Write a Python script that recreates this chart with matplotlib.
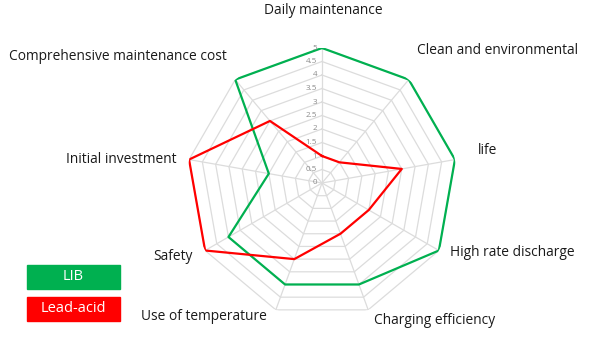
import numpy as np
import matplotlib
matplotlib.use("Agg")
import matplotlib.pyplot as plt
from matplotlib.transforms import offset_copy

categories = ["Daily maintenance", "Clean and environmental", "life",
              "High rate discharge", "Charging efficiency", "Use of temperature",
              "Safety", "Initial investment", "Comprehensive maintenance cost"]
lib_values = [5, 5, 5, 5, 4, 4, 4, 2, 5]
lead_values = [1, 1, 3, 2, 2, 3, 5, 5, 3]
ring_levels = [0.5, 1, 1.5, 2, 2.5, 3, 3.5, 4, 4.5, 5]
ring_labels = ["0", "0.5", "1", "1.5", "2", "2.5", "3", "3.5", "4", "4.5", "5"]

plt.rcParams['font.family'] = ['Open Sans', 'DejaVu Sans']

W, H = 600, 344
fig = plt.figure(figsize=(W / 100, H / 100), dpi=100)
cx, cy, R = 322, 183, 135
ax = fig.add_axes([(cx - R) / W, (H - cy - R) / H, 2 * R / W, 2 * R / H], projection='polar')
ax.set_theta_zero_location('N')
ax.set_theta_direction(-1)
ax.set_ylim(0, 5)
ax.grid(False)
ax.spines['polar'].set_visible(False)
ax.set_xticks([])
ax.set_yticks([])
ax.patch.set_alpha(0)

n = len(categories)
angles = np.linspace(0, 2 * np.pi, n, endpoint=False)
closed = np.concatenate([angles, angles[:1]])

grid_color = '#dcdcdc'
for lv in ring_levels:
    ax.plot(closed, [lv] * (n + 1), color=grid_color, lw=0.9, zorder=1)
for a in angles:
    ax.plot([a, a], [0, 5], color=grid_color, lw=0.9, zorder=1)

ax.plot(closed, lib_values + lib_values[:1], color='#00B050', lw=1.6, zorder=3)
ax.plot(closed, lead_values + lead_values[:1], color='#FF0000', lw=1.6, zorder=3)

tr = offset_copy(ax.transData, fig=fig, x=-5, y=0, units='dots')
for i, lab in enumerate(ring_labels):
    ax.text(0, i * 0.5, lab, transform=tr, ha='right', va='center',
            fontsize=5.8, color='#8a8a8a', zorder=4)

# category labels (pixel anchors)
label_pos = [
    (323, 11, 'center'),
    (417, 50, 'left'),
    (478, 151, 'left'),
    (450, 253, 'left'),
    (374, 320, 'left'),
    (267, 317, 'right'),
    (193, 256, 'right'),
    (176, 160, 'right'),
    (227, 56, 'right'),
]
for name, (x, y, ha) in zip(categories, label_pos):
    fig.text(x / W, 1 - y / H, name, ha=ha, va='center', fontsize=9.9, color='#1a1a1a')

# legend boxes
for (label, color, y0, y1) in [("LIB", '#00B050', 265, 289), ("Lead-acid", '#FF0000', 297, 321)]:
    fig.patches.append(plt.Rectangle((27 / W, 1 - y1 / H), 93 / W, (y1 - y0) / H,
                                     transform=fig.transFigure, color=color, zorder=5))
    fig.text(73.5 / W, 1 - (y0 + y1) / 2 / H, label, ha='center', va='center',
             fontsize=10.5, color='white', zorder=6)

fig.savefig('out.png', dpi=100)
